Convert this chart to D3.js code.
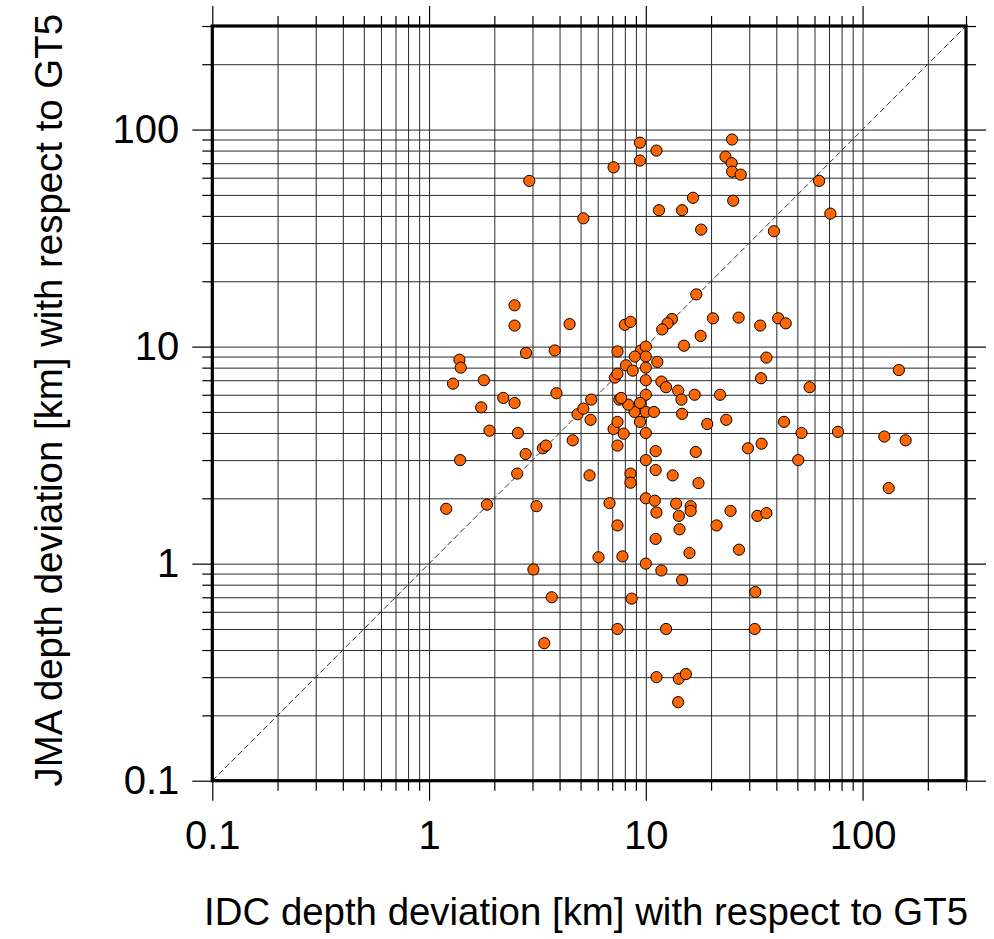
<!DOCTYPE html>
<html>
<head>
<meta charset="utf-8">
<script src="https://cdn.jsdelivr.net/npm/d3@7"></script>
<style>
  body { margin: 0; background: #fff; }
  svg text { font-family: "Liberation Sans", Arial, sans-serif; fill: #000; }
</style>
</head>
<body>
<svg id="chart" width="994" height="939"></svg>
<script>
// IDC depth deviation [km] (x) and JMA depth deviation [km] (y), both w.r.t. GT5
var idc = [9.4, 11.2, 9.4, 7.1, 2.9, 25, 23.3, 24.9, 25, 27.4, 63, 16.5, 25.3, 11.5, 14.7, 5.15, 71, 18, 39,
  17.1, 2.48, 2.48, 4.45, 8.0, 8.5, 13.2, 12.6, 11.9, 20.4, 26.8, 33.7, 40.8, 44.2, 17.9, 15, 7.4, 9.5, 10,
  2.8, 3.8, 1.38, 1.4, 1.29, 1.79, 3.87, 2.2, 2.48, 1.74, 1.9, 2.57, 1.39, 2.79, 3.35, 3.46, 4.6, 2.55, 5.5,
  1.2, 1.85, 3.13, 6.8, 7.4, 10, 11, 11.2, 13.8, 14.2, 16.1, 16.1, 14.3, 11.1, 15.9, 8.5, 8.5, 10, 11.1,
  11.1, 13.3, 17, 17.5, 7.4, 7.1, 7.4, 7.9, 10, 4.84, 5.15, 5.6, 5.56, 7.2, 7.4, 8.1, 8.7, 8.9, 10, 10, 10,
  10, 10, 10.9, 8.87, 9.4, 9.4, 8.3, 7.55, 7.7, 11.3, 11.8, 12.4, 14.1, 14.6, 16.8, 14.7, 36, 147, 34, 57,
  22, 19.2, 23.5, 43.4, 52.3, 77, 126, 158, 29.6, 34.2, 50.5, 132, 24.6, 32.7, 36, 21.2, 26.9, 6.05, 7.8,
  10, 11.8, 14.7, 3.03, 3.68, 8.6, 32, 7.4, 12.4, 31.8, 3.4, 11.2, 14.2, 15.3, 14.1]
var jma = [87, 80, 72, 67, 58, 90, 75, 70, 64, 62, 58, 48.5, 47, 42.5, 42.5, 39, 41, 34.6, 34,
  17.4, 15.5, 12.5, 12.7, 12.6, 13, 13.4, 12.8, 12, 13.5, 13.6, 12.5, 13.5, 12.8, 11.2, 10.1, 9.5, 9.6, 10,
  9.35, 9.6, 8.7, 8.0, 6.75, 7.0, 6.1, 5.8, 5.5, 5.25, 4.1, 4.0, 3.0, 3.2, 3.4, 3.5, 3.7, 2.6, 2.55,
  1.79, 1.87, 1.84, 1.9, 1.5, 2.0, 1.95, 1.72, 1.89, 1.66, 1.84, 1.75, 1.44, 1.3, 1.12, 2.6, 2.36, 3.0, 3.3,
  2.7, 2.55, 3.27, 2.35, 3.5, 4.17, 4.5, 3.97, 4.0, 4.88, 5.18, 5.7, 4.6, 7.2, 7.5, 8.2, 7.75, 9.0, 9.0, 8.0, 7.0,
  6.0, 5.0, 5.0, 5.0, 5.5, 4.5, 5.4, 5.7, 5.8, 8.5, 6.9, 6.5, 6.27, 5.7, 6.0, 4.9, 8.9, 7.8, 7.15, 6.5,
  6.0, 4.4, 4.6, 4.5, 4.0, 4.05, 3.85, 3.7, 3.4, 3.57, 3.0, 2.23, 1.75, 1.66, 1.71, 1.5, 1.16, 1.07, 1.08,
  1.0, 0.93, 0.84, 0.94, 0.7, 0.69, 0.74, 0.5, 0.5, 0.5, 0.43, 0.3, 0.295, 0.31, 0.23]

var decades = [0.1, 1, 10, 100]
var decadeLabels = ["0.1", "1", "10", "100"]
var domain = [0.1, 300]
var xTitle = "IDC depth deviation [km] with respect to GT5"
var yTitle = "JMA depth deviation [km] with respect to GT5"

var svg = d3.select("#chart")
var plot = {left: 212.3, right: 966, top: 26, bottom: 780.7}

var x = d3.scaleLog().domain(domain).range([plot.left, plot.right])
var y = d3.scaleLog().domain(domain).range([plot.bottom, plot.top])

// 2..9 multiples of each decade within the domain
var minors = []
decades.forEach(function(d){
  for (var k = 2; k <= 9; k++) {
    var v = +(d * k).toPrecision(3)
    if (v <= domain[1]) minors.push(v)
  }
})
var allTicks = decades.concat(minors)

// grid
svg.append("g").attr("class", "grid")
  .attr("transform", "translate(0," + plot.bottom + ")")
  .call(d3.axisBottom(x).tickValues(allTicks).tickSize(-(plot.bottom - plot.top)).tickFormat(""))
svg.append("g").attr("class", "grid")
  .attr("transform", "translate(" + plot.left + ",0)")
  .call(d3.axisLeft(y).tickValues(allTicks).tickSize(-(plot.right - plot.left)).tickFormat(""))
svg.selectAll("g.grid .domain").remove()
svg.selectAll("g.grid line").attr("stroke", "#2a2a2a").attr("stroke-width", 1)

// 1:1 line
svg.append("line")
  .attr("x1", x(domain[0])).attr("y1", y(domain[0]))
  .attr("x2", x(domain[1])).attr("y2", y(domain[1]))
  .attr("stroke", "#333").attr("stroke-width", 1)
  .attr("stroke-dasharray", "6,3")

// points
svg.append("g").selectAll("circle")
  .data(idc)
  .enter()
  .append("circle")
    .attr("cx", function(d){ return x(d) })
    .attr("cy", function(d, i){ return y(jma[i]) })
    .attr("r", 5.6)
    .attr("fill", "#ff6600")
    .attr("stroke", "#000")
    .attr("stroke-width", 1)

// frame
svg.append("rect")
  .attr("x", plot.left).attr("y", plot.top)
  .attr("width", plot.right - plot.left).attr("height", plot.bottom - plot.top)
  .attr("fill", "none").attr("stroke", "#000").attr("stroke-width", 3.2)

// ticks on all four sides
function side(axisFn, scale, transform, vals, size, labels){
  var a = axisFn(scale).tickValues(vals).tickSizeInner(size).tickSizeOuter(0)
  if (labels) a.tickFormat(function(d){ return decadeLabels[decades.indexOf(d)] }).tickPadding(labels)
  else a.tickFormat("")
  var g = svg.append("g").attr("class", "ticks").attr("transform", transform).call(a)
  g.select(".domain").remove()
  g.selectAll("line").attr("stroke", "#000").attr("stroke-width", 1.2)
  g.attr("font-family", null).attr("font-size", null)
  g.selectAll("text").style("font-size", "40px")
  return g
}
side(d3.axisBottom, x, "translate(0," + plot.bottom + ")", decades, 20, 20)
side(d3.axisBottom, x, "translate(0," + plot.bottom + ")", minors, 10)
side(d3.axisTop, x, "translate(0," + plot.top + ")", decades, 20)
side(d3.axisTop, x, "translate(0," + plot.top + ")", minors, 10)
side(d3.axisLeft, y, "translate(" + plot.left + ",0)", decades, 20, 13)
side(d3.axisLeft, y, "translate(" + plot.left + ",0)", minors, 10)
side(d3.axisRight, y, "translate(" + plot.right + ",0)", decades, 20)
side(d3.axisRight, y, "translate(" + plot.right + ",0)", minors, 10)

// axis titles
svg.append("text")
  .attr("x", 968).attr("y", 925)
  .attr("text-anchor", "end")
  .style("font-size", "38.4px")
  .text(xTitle)
svg.append("text")
  .attr("transform", "translate(62,14) rotate(-90)")
  .attr("text-anchor", "end")
  .style("font-size", "38.4px")
  .text(yTitle)
</script>
</body>
</html>
